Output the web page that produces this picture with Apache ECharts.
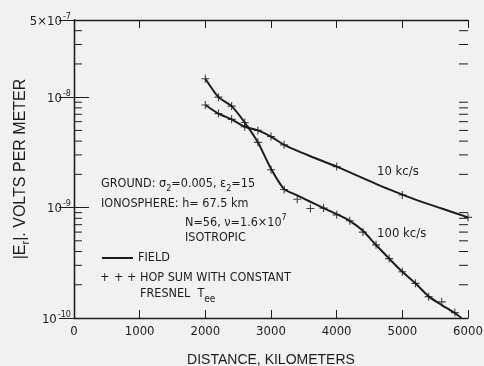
<!DOCTYPE html>
<html>
<head>
<meta charset="utf-8">
<script src="https://cdn.jsdelivr.net/npm/echarts@6/dist/echarts.min.js"></script>
<style>
html,body{margin:0;padding:0;background:#f1f1f1;}
#c{width:484px;height:366px;}
</style>
</head>
<body>
<div id="c"></div>
<script>
// Distances (km) and field values (V/m)
const dist10Field = [2000, 2200, 2400, 2600, 2800, 3000, 3200, 3600, 4000, 4400, 4800, 5200, 5600, 6000];
const field10 = [8.5e-9, 7.1e-9, 6.3e-9, 5.4e-9, 5.0e-9, 4.4e-9, 3.7e-9, 2.92e-9, 2.35e-9, 1.85e-9, 1.46e-9, 1.18e-9, 9.8e-10, 8.15e-10];
const dist10Hop = [2000, 2200, 2400, 2600, 2800, 3000, 3200, 4000, 5000, 6000];
const hop10 = [8.5e-9, 7.1e-9, 6.3e-9, 5.4e-9, 5.0e-9, 4.4e-9, 3.7e-9, 2.35e-9, 1.30e-9, 8.15e-10];

const dist100Field = [2000, 2200, 2400, 2600, 2800, 3000, 3200, 3400, 3600, 3800, 4000, 4200, 4400, 4600, 4800, 5000, 5200, 5400, 5600, 5800, 5900];
const field100 = [1.47e-8, 1.0e-8, 8.3e-9, 5.9e-9, 3.9e-9, 2.25e-9, 1.47e-9, 1.29e-9, 1.13e-9, 9.9e-10, 8.73e-10, 7.59e-10, 6.16e-10, 4.58e-10, 3.45e-10, 2.62e-10, 2.06e-10, 1.57e-10, 1.31e-10, 1.11e-10, 1.0e-10];
const dist100Hop = [2000, 2200, 2400, 2600, 2800, 3000, 3200, 3400, 3600, 3800, 4000, 4200, 4400, 4600, 4800, 5000, 5200, 5400, 5600, 5800];
const hop100 = [1.47e-8, 1.0e-8, 8.3e-9, 5.9e-9, 3.9e-9, 2.2e-9, 1.46e-9, 1.19e-9, 9.8e-10, 9.9e-10, 8.6e-10, 7.6e-10, 6.0e-10, 4.6e-10, 3.45e-10, 2.62e-10, 2.06e-10, 1.56e-10, 1.40e-10, 1.12e-10];

// Axis tick values
const xTicks = [0, 1000, 2000, 3000, 4000, 5000, 6000];
const yMin = 1e-10, yMax = 5e-8;
const yMinorTicks = [2e-10, 3e-10, 4e-10, 5e-10, 6e-10, 7e-10, 8e-10, 9e-10,
                     2e-9, 3e-9, 4e-9, 5e-9, 6e-9, 7e-9, 8e-9, 9e-9,
                     2e-8, 3e-8, 4e-8];
const topLabelText = ['5×10', '-7'];
const curveLabels = ['10 kc/s', '100 kc/s'];

const INK = '#1c1c1c';
const FONT = '"Liberation Sans Narrow", "DejaVu Sans Condensed", "Liberation Sans", sans-serif';
const WFONT = '"Liberation Sans", Arial, sans-serif';
const plusPath = 'path://M0,4.3H10V5.7H0Z M4.3,0H5.7V10H4.3Z';

function zip(xs, ys) { return xs.map((x, i) => [x, ys[i]]); }

const chart = echarts.init(document.getElementById('c'), null, {renderer: 'canvas'});

const yLabelRich = {
  b: {fontFamily: FONT, fontSize: 13, color: INK, verticalAlign: 'bottom', lineHeight: 16},
  s: {fontFamily: FONT, fontSize: 9, color: INK, verticalAlign: 'top', lineHeight: 16, padding: [0, 0, 0, 1]}
};

const option = {
  backgroundColor: '#f1f1f1',
  animation: false,
  grid: {left: 74, top: 20, right: 16, bottom: 48, containLabel: false, outerBoundsMode: 'none'},
  xAxis: [{
    type: 'value', min: 0, max: 6000, interval: 1000, position: 'bottom',
    axisLine: {show: true, lineStyle: {color: INK, width: 1.3}},
    axisTick: {show: true, inside: true, length: 8, lineStyle: {color: INK, width: 1}},
    splitLine: {show: false},
    axisLabel: {color: INK, fontFamily: FONT, fontSize: 13, margin: 7,
      formatter: v => xTicks.indexOf(v) >= 0 ? String(v) : ''},
    name: 'DISTANCE, KILOMETERS', nameLocation: 'middle', nameGap: 35, nameMoveOverlap: false,
    nameTextStyle: {color: INK, fontFamily: WFONT, fontSize: 14}
  }, {
    type: 'value', min: 0, max: 6000, interval: 1000, position: 'top',
    axisLine: {show: true, lineStyle: {color: INK, width: 1.3}},
    axisTick: {show: true, inside: true, length: 8, lineStyle: {color: INK, width: 1}},
    splitLine: {show: false}, axisLabel: {show: false}
  }],
  yAxis: [{
    type: 'log', logBase: 10, min: yMin, max: yMax, position: 'left',
    axisLine: {show: true, lineStyle: {color: INK, width: 1.3}},
    axisTick: {show: true, inside: true, length: 15, lineStyle: {color: INK, width: 1}},
    splitLine: {show: false}, minorTick: {show: false},
    axisLabel: {
      margin: 3, rich: yLabelRich,
      formatter: function (v) {
        if (v > 2e-8) return '{b|' + topLabelText[0] + '}{s|' + topLabelText[1] + '}';
        const e = String(Math.round(Math.log10(v)));
        return '{b|10}{s|' + e + '}';
      }
    },
    name: '{t||E}{r|r}{t||. VOLTS PER METER}', nameLocation: 'middle', nameGap: 43, nameRotate: 90,
    nameMoveOverlap: false,
    nameTextStyle: {
      rich: {
        t: {fontFamily: WFONT, fontSize: 16, color: INK, verticalAlign: 'top', lineHeight: 18},
        r: {fontFamily: WFONT, fontSize: 11, color: INK, verticalAlign: 'bottom', lineHeight: 18}
      }
    }
  }, {
    type: 'log', logBase: 10, min: yMin, max: yMax, position: 'right',
    axisLine: {show: true, lineStyle: {color: INK, width: 1.3}},
    axisTick: {show: true, inside: true, length: 15, lineStyle: {color: INK, width: 1}},
    splitLine: {show: false}, axisLabel: {show: false}
  }],
  series: [
    {
      name: 'minorTicks', type: 'custom', xAxisIndex: 0, yAxisIndex: 0, silent: true,
      data: yMinorTicks.map(v => [0, v]),
      renderItem: function (params, api) {
        const cs = params.coordSys;
        const y = api.coord([0, api.value(1)])[1];
        return {
          type: 'group',
          children: [
            {type: 'line', shape: {x1: cs.x, y1: y, x2: cs.x + 8, y2: y}, style: {stroke: INK, lineWidth: 1}},
            {type: 'line', shape: {x1: cs.x + cs.width - 9, y1: y, x2: cs.x + cs.width, y2: y}, style: {stroke: INK, lineWidth: 1}}
          ]
        };
      }
    },
    {
      name: 'FIELD 10 kc/s', type: 'line', data: zip(dist10Field, field10),
      showSymbol: false, smooth: 0.2,
      lineStyle: {color: INK, width: 2}
    },
    {
      name: 'FIELD 100 kc/s', type: 'line', data: zip(dist100Field, field100),
      showSymbol: false, smooth: 0.2,
      lineStyle: {color: INK, width: 2}
    },
    {
      name: 'HOP SUM 10 kc/s', type: 'scatter', data: zip(dist10Hop, hop10),
      symbol: plusPath, symbolSize: 8, itemStyle: {color: INK}
    },
    {
      name: 'HOP SUM 100 kc/s', type: 'scatter', data: zip(dist100Hop, hop100),
      symbol: plusPath, symbolSize: 8, itemStyle: {color: INK}
    }
  ],
  graphic: [
    {type: 'text', left: 377, top: 165, style: {text: curveLabels[0], font: '13px ' + FONT, fill: INK}},
    {type: 'text', left: 377, top: 227, style: {text: curveLabels[1], font: '13px ' + FONT, fill: INK}},
    {type: 'text', left: 101, top: 177, style: {
      text: '{a|GROUND: σ}{s|2}{a|=0.005, ε}{s|2}{a|=15}',
      rich: {a: {font: '12.5px ' + FONT, fill: INK, verticalAlign: 'top', lineHeight: 16},
             s: {font: '9px ' + FONT, fill: INK, verticalAlign: 'bottom', lineHeight: 16}}}},
    {type: 'text', left: 101, top: 197, style: {text: 'IONOSPHERE: h= 67.5 km', font: '12.5px ' + FONT, fill: INK}},
    {type: 'text', left: 185, top: 213, style: {
      text: '{a|N=56, ν=1.6×10}{s|7}',
      rich: {a: {font: '12.5px ' + FONT, fill: INK, verticalAlign: 'bottom', lineHeight: 16},
             s: {font: '9px ' + FONT, fill: INK, verticalAlign: 'top', lineHeight: 16}}}},
    {type: 'text', left: 185, top: 231, style: {text: 'ISOTROPIC', font: '12.5px ' + FONT, fill: INK}},
    {type: 'line', shape: {x1: 102, y1: 258, x2: 133, y2: 258}, style: {stroke: INK, lineWidth: 2}},
    {type: 'text', left: 138, top: 251, style: {text: 'FIELD', font: '12.5px ' + FONT, fill: INK}},
    {type: 'text', left: 100, top: 271, style: {text: '+', font: '12.5px ' + FONT, fill: INK}},
    {type: 'text', left: 114, top: 271, style: {text: '+', font: '12.5px ' + FONT, fill: INK}},
    {type: 'text', left: 127, top: 271, style: {text: '+', font: '12.5px ' + FONT, fill: INK}},
    {type: 'text', left: 140, top: 271, style: {text: 'HOP SUM WITH CONSTANT', font: '12.5px ' + FONT, fill: INK}},
    {type: 'text', left: 140, top: 287, style: {
      text: '{a|FRESNEL  T}{s|ee}',
      rich: {a: {font: '12.5px ' + FONT, fill: INK, verticalAlign: 'top', lineHeight: 17},
             s: {font: '10px ' + FONT, fill: INK, verticalAlign: 'bottom', lineHeight: 17}}}}
  ]
};
chart.setOption(option);
</script>
</body>
</html>
